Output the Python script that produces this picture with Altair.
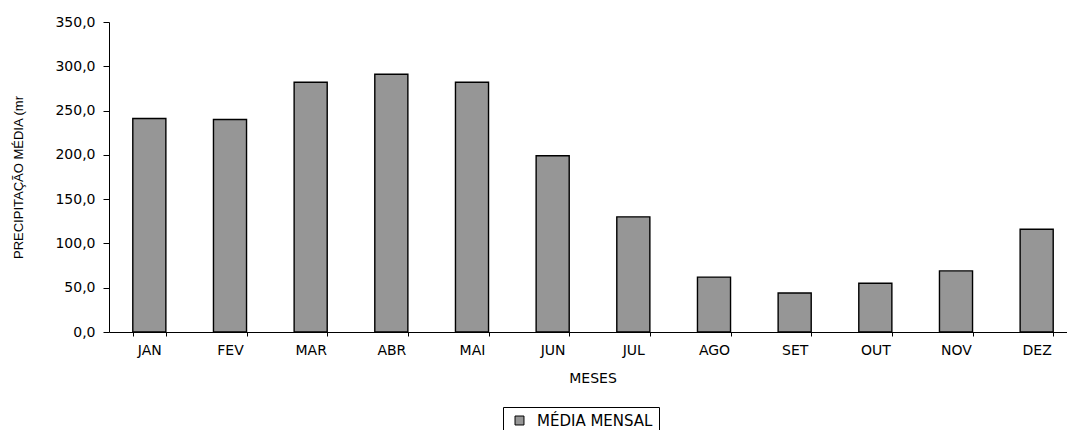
import altair as alt
import pandas as pd

months = ["JAN", "FEV", "MAR", "ABR", "MAI", "JUN", "JUL", "AGO", "SET", "OUT", "NOV", "DEZ"]
values = [241.0, 240.0, 282.0, 291.0, 282.0, 199.0, 130.0, 62.0, 44.0, 55.0, 69.0, 116.0]
series_name = "MÉDIA MENSAL"
y_ticks = [0, 50, 100, 150, 200, 250, 300, 350]

df = pd.DataFrame({"mes": months, "valor": values, "serie": [series_name] * len(months)})

tick_font = "DejaVu Sans"

chart = alt.Chart(df).mark_bar(
    stroke="black", strokeWidth=1.4, fill="#969696"
).encode(
    x=alt.X(
        "mes:N",
        sort=months,
        scale=alt.Scale(paddingInner=0.59, paddingOuter=0.295, range=[0, 968]),
        axis=alt.Axis(
            title="MESES",
            labelAngle=0,
            tickBand="extent",
            tickSize=4,
            labelPadding=14,
            labelBaseline="middle",
            labelFont=tick_font,
            labelFontSize=14,
            labelColor="black",
            domainColor="black",
            tickColor="black",
            titleFont=tick_font,
            titleFontSize=14,
            titleFontWeight="normal",
            titleColor="black",
            titleX=483.5,
            titleY=46,
            titleBaseline="middle",
            titleAlign="center",
        ),
    ),
    y=alt.Y(
        "valor:Q",
        scale=alt.Scale(domain=[0, 350], nice=False),
        axis=alt.Axis(
            title="PRECIPITAÇÃO MÉDIA (mr",
            values=y_ticks,
            grid=False,
            labelExpr="replace(format(datum.value, '.1f'), '.', ',')",
            tickSize=6,
            labelPadding=8,
            labelFont=tick_font,
            labelFontSize=14,
            labelColor="black",
            domainColor="black",
            tickColor="black",
            titleFont="Liberation Sans",
            titleFontSize=13,
            titleFontWeight="normal",
            titleColor="black",
            titleX=-91,
            titleY=155,
            titleBaseline="middle",
            titleAlign="center",
            titleAngle=270,
        ),
    ),
    color=alt.Color(
        "serie:N",
        scale=alt.Scale(domain=[series_name], range=["#969696"]),
        legend=alt.Legend(
            title=None,
            orient="none",
            legendX=394,
            legendY=385,
            direction="horizontal",
            strokeColor="black",
            fillColor="white",
            padding=6,
            cornerRadius=0,
            symbolType="square",
            symbolSize=80,
            symbolOffset=3,
            symbolStrokeColor="black",
            symbolStrokeWidth=1,
            symbolFillColor="#969696",
            labelFont=tick_font,
            labelFontSize=15,
            labelColor="black",
            labelOffset=10,
        ),
    ),
).properties(
    width=958,
    height=310,
    autosize=alt.AutoSizeParams(type="none"),
    padding={"left": 109, "top": 22, "right": 0, "bottom": 98},
).configure(background="white").configure_view(stroke=None)

chart.save("out.html", embed_options={"renderer": "svg", "actions": False})
